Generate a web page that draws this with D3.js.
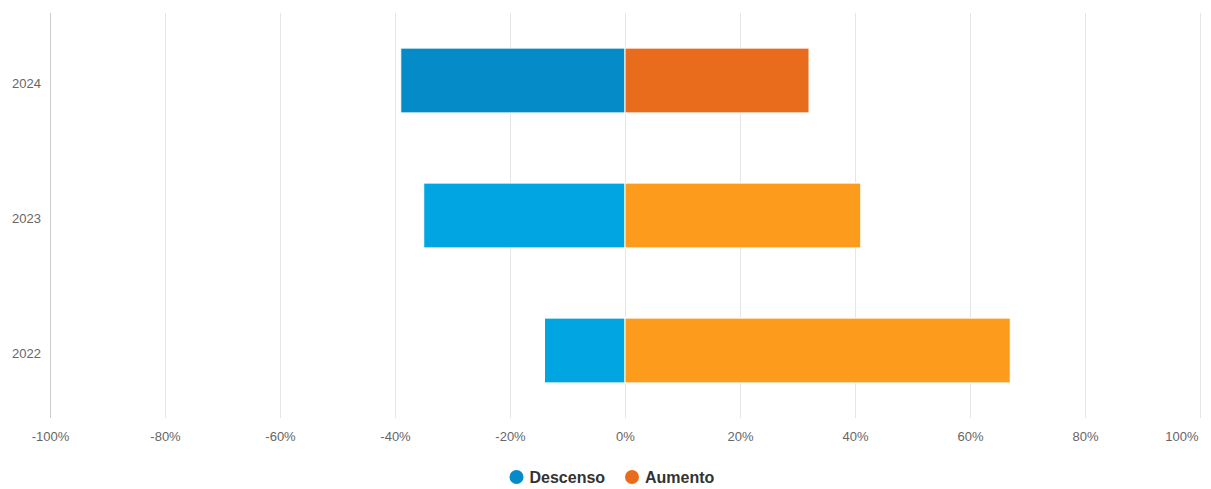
<!DOCTYPE html>
<html><head><meta charset="utf-8">
<script src="https://cdn.jsdelivr.net/npm/d3@7"></script>
<style>body{margin:0;background:#fff;} svg{display:block;font-family:"Liberation Sans",Arial,Helvetica,sans-serif;}</style>
</head><body>
<svg id="c" width="1211" height="489"></svg>
<script>
const categories = ["2024", "2023", "2022"];
const descenso = [-39, -35, -14];
const aumento = [32, 41, 67];
const tickValues = [-100, -80, -60, -40, -20, 0, 20, 40, 60, 80, 100];
const seriesNames = ["Descenso", "Aumento"];
const descColors = ["#058BC8", "#00A5E2", "#00A5E2"];
const aumColors = ["#E96B1C", "#FD9C1C", "#FD9C1C"];
const legendColors = ["#058BC8", "#E96B1C"];

const svg = d3.select("#c");
const m = {l: 50, r: 11, t: 13, b: 71};
const W = 1211, H = 489;
const x = d3.scaleLinear().domain([-100, 100]).range([m.l, W - m.r]);
const y = d3.scaleBand().domain(categories).range([m.t, H - m.b]).paddingInner(0.52).paddingOuter(0.26);

// grid
svg.append("g").selectAll("line").data(tickValues).join("line")
  .attr("x1", d => Math.round(x(d)) + 0.5).attr("x2", d => Math.round(x(d)) + 0.5)
  .attr("y1", m.t).attr("y2", H - m.b)
  .attr("stroke", (d, i) => i === 0 ? "#ccc" : "#e6e6e6").attr("stroke-width", 1);

// x axis labels
const xa = svg.append("g").attr("transform", `translate(0,${H - m.b})`)
  .call(d3.axisBottom(x).tickValues(tickValues).tickSize(0).tickPadding(14).tickFormat(d => d + "%"));
xa.select(".domain").remove();
xa.selectAll("text").attr("fill", "#666").attr("font-size", 13).style("font-family", "'Liberation Sans',Arial,sans-serif");
xa.selectAll(".tick").filter(d => d === 100).select("text").attr("text-anchor", "end").attr("x", -2);

// y axis labels
const ya = svg.append("g").attr("transform", `translate(${m.l},0)`)
  .call(d3.axisLeft(y).tickSize(0).tickPadding(9));
ya.select(".domain").remove();
ya.selectAll("text").attr("fill", "#666").attr("font-size", 13).attr("dy", "0.6em").style("font-family", "'Liberation Sans',Arial,sans-serif");

// bars
const bars = svg.append("g");
bars.selectAll("rect.d").data(categories).join("rect").attr("class", "d")
  .attr("x", (c, i) => x(descenso[i])).attr("width", (c, i) => x(0) - x(descenso[i]))
  .attr("y", c => y(c)).attr("height", y.bandwidth())
  .attr("fill", (c, i) => descColors[i]).attr("stroke", "#fff").attr("stroke-width", 1);
bars.selectAll("rect.a").data(categories).join("rect").attr("class", "a")
  .attr("x", x(0)).attr("width", (c, i) => x(aumento[i]) - x(0))
  .attr("y", c => y(c)).attr("height", y.bandwidth())
  .attr("fill", (c, i) => aumColors[i]).attr("stroke", "#fff").attr("stroke-width", 1);

// legend
const leg = svg.append("g").attr("transform", "translate(0,477)");
const items = [{n: seriesNames[0], c: legendColors[0], x: 516.5}, {n: seriesNames[1], c: legendColors[1], x: 632}];
items.forEach(it => {
  leg.append("circle").attr("cx", it.x).attr("cy", 0).attr("r", 7).attr("fill", it.c);
  leg.append("text").attr("x", it.x + 13).attr("y", 5.5).attr("font-size", 16).attr("font-weight", "bold")
    .attr("fill", "#333").text(it.n);
});
</script>
</body></html>
